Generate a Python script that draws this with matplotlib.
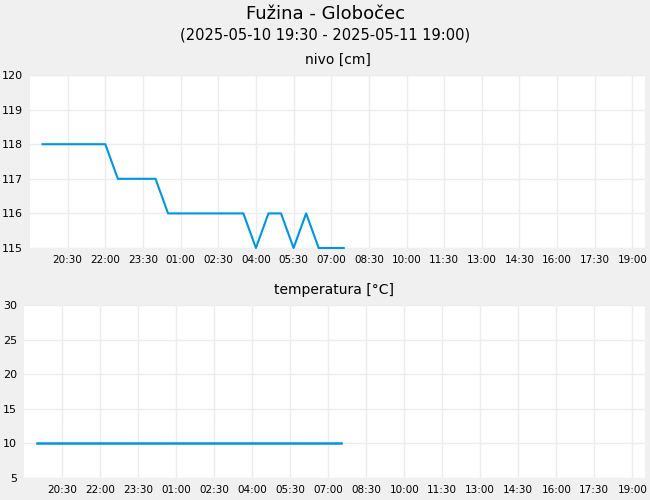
import numpy as np
import pandas as pd
import matplotlib
matplotlib.use('Agg')
import matplotlib.pyplot as plt
import matplotlib.dates as mdates

# meritve na 30 min, 2025-05-10 19:30 -> 2025-05-11 07:30
times = pd.date_range('2025-05-10 19:30', '2025-05-11 07:30', freq='30min')
nivo = [118, 118, 118, 118, 118, 118,
        117, 117, 117, 117,
        116, 116, 116, 116, 116, 116, 116,
        115, 116, 116, 115, 116, 115, 115, 115]
temperatura = [10] * 25

x_start = pd.Timestamp('2025-05-10 19:00')
x_end = pd.Timestamp('2025-05-11 19:30')
tick_times = pd.date_range('2025-05-10 20:30', '2025-05-11 19:00', freq='90min')

line_color = '#0094e8'
bg = '#f0f0f0'
grid_color = '#ececec'

plt.rcParams['font.family'] = ['DejaVu Sans']
fig = plt.figure(figsize=(6.5, 5), dpi=100, facecolor=bg)

fig.text(0.5, 0.972, 'Fužina - Globočec', ha='center', va='center', fontsize=13, fontweight='medium')
fig.text(0.5, 0.931, '(2025-05-10 19:30 - 2025-05-11 19:00)', ha='center', va='center', fontsize=10.5)

ax1 = fig.add_axes([30/650, 1-248/500, 615/650, 173/500])
ax2 = fig.add_axes([24/650, 1-478/500, 621/650, 173/500])


def style(ax, title, ylim, yticks):
    ax.set_facecolor('white')
    for s in ax.spines.values():
        s.set_visible(False)
    ax.set_xlim(x_start, x_end)
    ax.set_ylim(*ylim)
    ax.set_yticks(yticks)
    ax.set_xticks(tick_times)
    ax.xaxis.set_major_formatter(mdates.DateFormatter('%H:%M'))
    ax.tick_params(length=0, labelsize=7.5, pad=5)
    ax.tick_params(axis='y', labelsize=8, pad=5)
    ax.grid(True, color=grid_color, lw=1)
    ax.set_axisbelow(True)
    ax.set_title(title, fontsize=10, pad=8)


ax1.plot(times, nivo, color=line_color, lw=1.5, clip_on=False)
style(ax1, 'nivo [cm]', (115, 120), range(115, 121))

ax2.plot(times, temperatura, color=line_color, lw=1.8)
style(ax2, 'temperatura [°C]', (5, 30), range(5, 31, 5))

fig.savefig('out.png', dpi=100, facecolor=bg)
